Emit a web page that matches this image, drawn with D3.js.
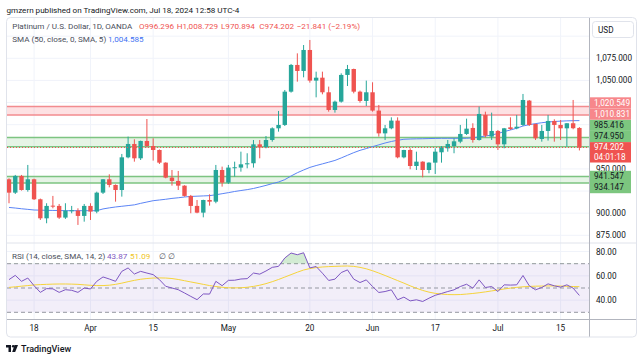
<!DOCTYPE html>
<html>
<head>
<meta charset="utf-8">
<script src="https://cdn.jsdelivr.net/npm/d3@7"></script>
<style>
  html, body { margin: 0; padding: 0; background: #fff; }
  svg { display: block; font-family: Roboto, "Open Sans", sans-serif; }
</style>
</head>
<body>
<div id="chart"></div>
<script>
// ---- data ----
const holidays = ["2024-03-29"];
const opens = [938.3,923.2,942.1,926.2,938.3,915.7,894.2,908.5,908.2,895.0,902.5,902.9,896.9,908.2,901.8,923.2,938.3,931.9,926.2,963.1,978.2,962.0,981.6,975.9,971.4,957.1,940.2,936.4,931.1,919.5,908.2,900.6,914.9,913.0,948.8,934.5,951.1,951.5,955.2,956.4,977.8,974.4,982.7,995.9,999.7,1037.3,1067.5,1060.7,1084.4,1049.8,1053.1,1036.6,1016.6,1026.0,1056.2,1062.9,1037.3,1026.8,1036.6,1015.9,990.2,995.9,1004.6,963.1,971.4,953.3,958.2,948.8,957.1,968.8,973.3,975.9,980.8,989.5,996.3,982.7,1011.0,986.5,992.9,977.8,997.0,995.9,999.7,1027.2,1000.8,983.8,992.9,1004.2,999.7,995.9,1001.6,996.3];
const highs = [939.4,943.2,943.2,954.5,939.0,916.5,911.2,919.5,910.4,911.2,908.2,905.5,910.4,911.2,924.3,938.5,943.9,932.5,966.9,986.5,983.5,982.0,1006.4,984.6,972.0,957.5,948.8,947.7,931.5,920.6,914.9,915.2,921.3,954.5,952.6,954.5,958.2,969.5,967.7,982.7,982.7,987.2,997.0,1015.5,1039.2,1068.6,1080.6,1090.0,1095.7,1059.9,1059.9,1043.0,1027.2,1058.0,1067.5,1063.3,1038.5,1049.8,1047.9,1022.3,999.7,1008.3,1008.3,971.6,973.3,969.5,958.6,957.5,973.3,975.9,982.7,984.6,999.7,1006.8,1001.6,1020.4,1014.7,1013.6,994.0,996.3,1008.3,1011.0,1034.7,1027.9,1001.2,999.7,1011.0,1006.1,1005.3,1001.6,1027.9,997.2];
const lows = [911.2,921.7,925.5,924.3,914.9,892.3,888.6,905.5,893.5,893.5,899.9,886.7,890.4,892.3,899.9,921.7,929.2,913.0,918.7,962.0,958.2,960.1,974.4,959.4,955.6,939.4,931.1,926.2,918.7,899.9,899.9,895.3,908.5,911.2,930.0,933.0,941.3,946.9,950.7,951.5,962.0,973.3,980.8,992.1,998.5,1036.2,1048.6,1053.5,1047.5,1030.9,1034.3,1014.7,1013.6,1024.9,1043.7,1035.4,1024.9,1021.1,1014.7,986.5,982.7,994.8,962.0,962.0,949.6,948.8,940.5,945.1,944.3,957.1,969.5,967.7,979.0,988.4,979.7,982.0,985.7,982.7,971.4,973.3,994.0,994.8,998.5,998.5,982.7,980.8,982.0,980.8,982.7,975.2,994.8,970.9];
const closes = [923.2,942.1,926.2,938.3,915.7,894.2,908.2,907.8,895.0,902.9,903.3,896.9,908.2,901.8,923.2,938.3,931.9,926.2,963.1,978.2,962.0,981.6,975.9,971.4,957.1,940.2,936.4,931.1,919.5,908.2,900.6,914.9,913.0,948.8,934.5,951.5,951.9,955.2,956.4,977.8,974.4,982.7,995.9,999.7,1037.3,1067.5,1060.7,1084.4,1049.8,1053.1,1036.6,1016.6,1026.0,1056.2,1062.9,1037.3,1026.8,1036.6,1015.9,990.2,995.9,1004.6,963.1,971.4,953.3,958.2,948.8,957.1,969.5,974.4,978.2,981.2,989.5,995.5,982.7,1012.1,987.6,992.9,977.8,995.9,995.1,997.7,1027.9,999.7,984.6,992.9,1004.2,999.7,995.9,1001.6,996.0,974.2];
const sma50 = [906.5,905.8,905.0,904.3,903.6,903.4,903.2,903.1,903.0,902.8,902.8,902.8,902.8,902.8,902.8,904.8,906.0,907.0,907.8,908.6,909.4,911.1,912.6,914.1,914.9,915.7,916.7,917.4,918.3,918.9,919.2,919.5,919.8,920.8,922.0,923.2,924.5,925.6,926.6,927.9,929.6,931.4,933.4,935.2,937.9,942.0,945.7,948.8,951.7,953.8,955.7,957.6,959.6,962.4,965.4,968.4,971.0,973.0,975.2,977.2,979.3,981.0,982.4,983.5,983.8,984.0,984.1,984.3,984.5,984.6,984.6,984.6,984.6,984.6,985.2,986.1,987.2,988.3,990.0,992.2,994.0,996.0,998.5,1000.0,1001.2,1002.2,1003.0,1003.6,1004.0,1004.3,1004.5,1004.585];
const rsi = [56.9,60.4,55.5,58.2,51.9,46.4,49.5,49.3,46.4,48.6,48.1,46.4,50.0,49.2,55.5,59.1,57.4,55.5,63.7,66.5,61.5,63.7,62.3,61.0,56.9,51.4,50.0,48.6,45.9,43.1,40.4,45.1,45.0,55.5,51.9,56.3,56.4,57.4,57.7,62.3,61.4,64.0,67.0,67.8,74.7,78.8,77.4,79.0,66.5,67.7,62.2,56.2,57.3,62.7,64.9,57.3,54.5,56.7,51.2,46.3,47.1,48.5,40.3,42.5,39.4,40.3,38.9,41.6,44.0,45.5,47.1,48.5,51.2,53.1,49.9,56.7,50.4,51.2,47.1,52.6,52.4,52.6,60.3,51.8,48.5,50.4,53.4,51.8,50.7,52.6,49.9,43.87];
const rsiMa = [50.5,51.0,51.5,52.0,52.5,52.8,53.0,53.2,53.3,53.3,53.2,53.0,52.6,52.2,52.0,52.0,52.3,53.0,54.0,55.2,56.3,57.2,57.8,58.2,58.3,58.2,57.8,57.0,56.0,55.0,54.0,53.0,52.0,51.2,50.6,50.2,50.1,50.2,50.6,51.3,52.3,53.6,55.2,57.0,59.0,61.0,63.0,64.8,66.0,66.8,67.3,67.6,67.8,68.0,68.1,67.8,67.0,65.8,64.2,62.3,60.3,58.2,56.1,54.0,51.8,49.8,48.0,46.6,45.6,45.0,44.6,44.5,44.6,45.0,45.5,46.1,46.8,47.6,48.4,49.2,49.9,50.5,51.0,51.3,51.5,51.6,51.7,51.7,51.6,51.4,51.2,51.09];
const priceTicks = [875, 900, 925, 950, 975, 1000, 1025, 1050, 1075];
const rsiTicks = [40, 60, 80];
const tickDates = ["2024-03-18","2024-04-01","2024-04-15","2024-05-01","2024-05-20","2024-06-03","2024-06-17","2024-07-01","2024-07-15"];
const tickLabels = ["18","Apr","15","May","20","Jun","17","Jul","15"];
const redZone = [1010.831, 1020.549];
const greenZones = [[974.950, 985.416], [934.147, 941.547]];
const lastPrice = 974.202;
const countdown = "04:01:18";

// ---- build ----
const fmtDay = d3.utcFormat("%Y-%m-%d");
const dates = d3.utcDay.range(new Date(Date.UTC(2024, 2, 12)), new Date(Date.UTC(2024, 6, 19)))
  .filter(d => d.getUTCDay() !== 0 && d.getUTCDay() !== 6 && !holidays.includes(fmtDay(d)))
  .map(fmtDay);
const bars = dates.map((d, i) => ({d, o: opens[i], h: highs[i], l: lows[i], c: closes[i], sma: sma50[i], rsi: rsi[i], ma: rsiMa[i]}));

const W = 643, H = 361;
const L = 7, R = 589.5, T = 17.5, MB = 243, RB = 319.5, FB = 337;
const UP = "#26a69a", DOWN = "#ef5350", GRID = "#f0f3fa", TXT = "#131722";

const svg = d3.select("#chart").append("svg").attr("width", W).attr("height", H);

const x = d3.scalePoint().domain(dates).range([9, 579.4]);
const y = d3.scaleLinear().domain([875, 1075]).range([235.3, 58.3]);
const yR = d3.scaleLinear().domain([30, 70]).range([312.3, 263.7]);

const defs = svg.append("defs");
defs.append("clipPath").attr("id", "mainClip").append("rect")
  .attr("x", L).attr("y", T).attr("width", R - L).attr("height", MB - T);
defs.append("clipPath").attr("id", "rsiClip").append("rect")
  .attr("x", L).attr("y", MB).attr("width", R - L).attr("height", RB - MB);
defs.append("clipPath").attr("id", "obClip").append("rect")
  .attr("x", L).attr("y", MB).attr("width", R - L).attr("height", yR(70) - MB);

// grid
const grid = svg.append("g");
grid.selectAll(".vg").data(tickDates).join("line")
  .attr("x1", d => x(d)).attr("x2", d => x(d)).attr("y1", T).attr("y2", RB)
  .attr("stroke", GRID);
grid.selectAll(".hg").data(priceTicks.concat([1100])).join("line")
  .attr("x1", L).attr("x2", R).attr("y1", d => y(d)).attr("y2", d => y(d))
  .attr("stroke", GRID);
grid.selectAll(".rg").data(rsiTicks).join("line")
  .attr("x1", L).attr("x2", R).attr("y1", d => yR(d)).attr("y2", d => yR(d))
  .attr("stroke", GRID);

const main = svg.append("g").attr("clip-path", "url(#mainClip)");

// zones
main.append("rect").attr("x", L).attr("width", R - L)
  .attr("y", y(redZone[1])).attr("height", y(redZone[0]) - y(redZone[1]))
  .attr("fill", "rgba(242,54,69,0.15)");
main.selectAll(".rl").data(redZone).join("line")
  .attr("x1", L).attr("x2", R).attr("y1", d => y(d)).attr("y2", d => y(d))
  .attr("stroke", "#f28b8f").attr("stroke-width", 1.5);
greenZones.forEach(z => {
  main.append("rect").attr("x", L).attr("width", R - L)
    .attr("y", y(z[1])).attr("height", y(z[0]) - y(z[1]))
    .attr("fill", "rgba(76,175,80,0.14)");
  main.selectAll(null).data(z).join("line")
    .attr("x1", L).attr("x2", R).attr("y1", d => y(d)).attr("y2", d => y(d))
    .attr("stroke", "#7dc481").attr("stroke-width", 1.5);
});

// SMA
main.append("path").datum(bars)
  .attr("fill", "none").attr("stroke", "#5b84f5").attr("stroke-width", 1)
  .attr("d", d3.line().x(d => x(d.d)).y(d => y(d.sma)));

// candles
const cg = main.append("g");
cg.selectAll("line").data(bars).join("line")
  .attr("x1", d => x(d.d)).attr("x2", d => x(d.d))
  .attr("y1", d => y(d.h)).attr("y2", d => y(d.l))
  .attr("stroke", d => d.c >= d.o ? UP : DOWN).attr("stroke-width", 1);
cg.selectAll("rect").data(bars).join("rect")
  .attr("x", d => x(d.d) - 2.2).attr("width", 4.4)
  .attr("y", d => y(Math.max(d.o, d.c)))
  .attr("height", d => Math.max(1, Math.abs(y(d.o) - y(d.c))))
  .attr("fill", d => d.c >= d.o ? UP : DOWN);

// last price line
main.append("line").attr("x1", L).attr("x2", R)
  .attr("y1", y(lastPrice)).attr("y2", y(lastPrice))
  .attr("stroke", DOWN).attr("stroke-width", 1).attr("stroke-dasharray", "1,2");

// legends
const fs = 8.1;
svg.append("text").attr("x", 6.5).attr("y", 12.5).attr("font-size", fs).attr("fill", TXT)
  .text("gmzern published on TradingView.com, Jul 18, 2024 12:58 UTC-4");
const l1 = [
  {t: "Platinum / U.S. Dollar, 1D, OANDA", x: 12.3, c: "#4a4e5a"},
  {t: "O996.296", x: 139, c: DOWN},
  {t: "H1,008.729", x: 176.7, c: DOWN},
  {t: "L970.894", x: 221, c: DOWN},
  {t: "C974.202", x: 259.3, c: DOWN},
  {t: "\u221221.841 (\u22122.19%)", x: 296.7, c: DOWN}
];
svg.selectAll(".l1").data(l1).join("text")
  .attr("x", d => d.x).attr("y", 29.3).attr("font-size", fs).attr("fill", d => d.c).text(d => d.t);
svg.append("text").attr("x", 12.3).attr("y", 42).attr("font-size", fs).attr("fill", "#4a4e5a")
  .text("SMA (50, close, 0, SMA, 5)");
svg.append("text").attr("x", 108).attr("y", 42).attr("font-size", fs).attr("fill", "#3d6ff2")
  .text(d3.format(",.3f")(sma50[sma50.length - 1]));

// price tags, stacked the way the platform pushes them apart
const afs = 8.2;
const tagH = 11.2;
const curTop = y(lastPrice) - 5.4;
const above = [
  {v: 974.950, bg: "#7cc67f", fg: TXT},
  {v: 985.416, bg: "#7cc67f", fg: TXT},
  {v: 1010.831, bg: "#f7878b", fg: "#fff"},
  {v: 1020.549, bg: "#f7878b", fg: "#fff"}
];
const below = [
  {v: 941.547, bg: "#7cc67f", fg: TXT},
  {v: 934.147, bg: "#7cc67f", fg: TXT}
];
let prev = curTop;
above.forEach(t => { t.top = Math.min(y(t.v) - tagH / 2, prev - tagH); prev = t.top; });
prev = curTop + 20.4;
below.forEach(t => { t.top = Math.max(y(t.v) - tagH / 2, prev); prev = t.top + tagH; });
const tags = above.concat(below);
const boxes = tags.map(t => [t.top, t.top + tagH]).concat([[curTop, curTop + 20.4]]);

// price axis labels (the ones hidden under a tag are left out)
const shown = priceTicks.filter(v => !boxes.some(b => y(v) > b[0] && y(v) < b[1]));
svg.selectAll(".pt").data(shown).join("text")
  .attr("x", 596).attr("y", d => y(d) + 2.6).attr("font-size", afs).attr("fill", TXT)
  .text(d => d3.format(",.3f")(d));

// USD button
svg.append("rect").attr("x", 592.5).attr("y", 21.5).attr("width", 41).attr("height", 16).attr("rx", 3)
  .attr("fill", "#fff").attr("stroke", "#e0e3eb");
svg.append("text").attr("x", 598).attr("y", 32.5).attr("font-size", afs).attr("fill", TXT).text("USD");

const tg = svg.append("g");
tg.selectAll("rect").data(tags).join("rect")
  .attr("x", 590).attr("y", d => d.top).attr("width", 41).attr("height", tagH)
  .attr("fill", d => d.bg);
tg.selectAll("text").data(tags).join("text")
  .attr("x", 594).attr("y", d => d.top + 8.2).attr("font-size", afs).attr("fill", d => d.fg)
  .text(d => d3.format(",.3f")(d.v));
tg.append("rect").attr("x", 590).attr("y", curTop).attr("width", 41).attr("height", 20.4).attr("fill", DOWN);
tg.append("text").attr("x", 594).attr("y", curTop + 8.2).attr("font-size", afs).attr("fill", "#fff")
  .text(d3.format(",.3f")(lastPrice));
tg.append("text").attr("x", 594).attr("y", curTop + 17.8).attr("font-size", afs).attr("fill", "#fff")
  .text(countdown);

// ---- RSI pane ----
const rp = svg.append("g").attr("clip-path", "url(#rsiClip)");
rp.append("rect").attr("x", L).attr("width", R - L).attr("y", yR(70)).attr("height", yR(30) - yR(70))
  .attr("fill", "rgba(126,87,194,0.1)");
rp.selectAll(".dl").data([70, 50, 30]).join("line")
  .attr("x1", L).attr("x2", R).attr("y1", d => yR(d)).attr("y2", d => yR(d))
  .attr("stroke", "#9598a1").attr("stroke-dasharray", "4,3").attr("stroke-width", 1);
rp.append("path").datum(bars).attr("clip-path", "url(#obClip)")
  .attr("fill", "rgba(76,175,80,0.25)")
  .attr("d", d3.area().x(d => x(d.d)).y0(yR(70)).y1(d => yR(d.rsi)));
rp.append("path").datum(bars).attr("fill", "none").attr("stroke", "#f5d33a").attr("stroke-width", 1)
  .attr("d", d3.line().x(d => x(d.d)).y(d => yR(d.ma)));
rp.append("path").datum(bars).attr("fill", "none").attr("stroke", "#7e57c2").attr("stroke-width", 1)
  .attr("d", d3.line().x(d => x(d.d)).y(d => yR(d.rsi)));

const rl = [
  {t: "RSI (14, close, SMA, 14, 2)", x: 12, c: "#4a4e5a"},
  {t: d3.format(".2f")(rsi[rsi.length - 1]), x: 107, c: "#7e57c2"},
  {t: d3.format(".2f")(rsiMa[rsiMa.length - 1]), x: 130, c: "#f0c419"},
  {t: "\u2205", x: 159, c: "#4a4e5a"},
  {t: "\u2205", x: 168, c: "#4a4e5a"}
];
svg.selectAll(".rl").data(rl).join("text")
  .attr("x", d => d.x).attr("y", 259).attr("font-size", fs).attr("fill", d => d.c).text(d => d.t);

svg.selectAll(".rt").data(rsiTicks).join("text")
  .attr("x", 596).attr("y", d => yR(d) + 3).attr("font-size", afs).attr("fill", TXT)
  .text(d => d3.format(".2f")(d));

// x axis labels
svg.selectAll(".xt").data(tickDates).join("text")
  .attr("x", d => x(d)).attr("y", 331).attr("text-anchor", "middle")
  .attr("font-size", afs).attr("fill", TXT)
  .text((d, i) => tickLabels[i]);

// separators and frame
const sep = "#e0e3eb";
svg.append("line").attr("x1", L).attr("x2", 636.5).attr("y1", MB).attr("y2", MB).attr("stroke", sep);
svg.append("line").attr("x1", L).attr("x2", 636.5).attr("y1", RB).attr("y2", RB).attr("stroke", "#b2b5be");
svg.append("line").attr("x1", R).attr("x2", R).attr("y1", T).attr("y2", FB).attr("stroke", "#b2b5be");
svg.append("rect").attr("x", 6.5).attr("y", T).attr("width", 630).attr("height", FB - T).attr("rx", 4)
  .attr("fill", "none").attr("stroke", sep);

// footer logo
const logo = svg.append("g").attr("fill", TXT);
logo.append("rect").attr("x", 6).attr("y", 345).attr("width", 5).attr("height", 2.5);
logo.append("rect").attr("x", 8.5).attr("y", 345).attr("width", 2.5).attr("height", 7);
logo.append("circle").attr("cx", 13.2).attr("cy", 346.3).attr("r", 1.3);
logo.append("path").attr("d", "M14.5,345 L18,345 L15.2,352 L12.2,352 Z");
svg.append("text").attr("x", 21).attr("y", 352).attr("font-size", 9).attr("font-weight", 500)
  .attr("fill", TXT).text("TradingView");
</script>
</body>
</html>
